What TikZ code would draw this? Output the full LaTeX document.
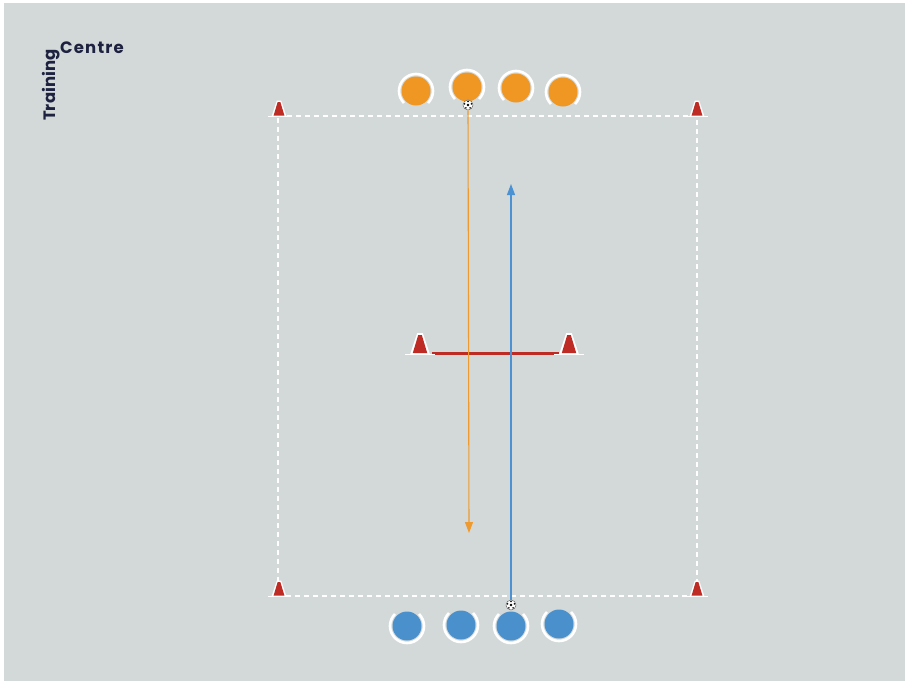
\documentclass[tikz,border=0pt]{standalone}
\usepackage{fontspec}
\setmainfont{Poppins}
\usetikzlibrary{arrows.meta,calc}
\definecolor{bg}{HTML}{D3D9D9}
\definecolor{orangep}{HTML}{EF9623}
\definecolor{bluep}{HTML}{4A90CC}
\definecolor{conered}{HTML}{BE2B24}
\definecolor{navy}{HTML}{1E2240}
\definecolor{arrowor}{HTML}{EE9A2E}
\definecolor{arrowbl}{HTML}{4A92D4}
\tikzset{
  orangeplayer/.style={circle,fill=orangep,minimum size=29pt,inner sep=0pt},
  blueplayer/.style={circle,fill=bluep,minimum size=29pt,inner sep=0pt},
  ballnode/.style={circle,fill=white,draw=black!60,line width=0.5pt,minimum size=10pt,inner sep=0pt},
  fieldline/.style={white,line width=1.3pt,dash pattern=on 5pt off 4pt},
  ring/.style={white,line width=2.6pt},
  run/.style={line width=1.1pt,-{Triangle[length=11pt,width=8pt]}},
  logotext/.style={inner sep=0pt,font=\bfseries\fontsize{16.5}{16.5}\selectfont,text=navy},
}
\newcommand{\conemark}[3]{% x, y, size
  \fill[white] (#1-#3*0.75,#2+#3*0.55) rectangle (#1+#3*0.75,#2+#3*0.62);
  \fill[white] (#1-#3*0.5,#2+#3*0.58) -- (#1-#3*0.14,#2-#3*0.5) -- (#1+#3*0.14,#2-#3*0.5) -- (#1+#3*0.5,#2+#3*0.58) -- cycle;
  \fill[conered] (#1-#3*0.36,#2+#3*0.5) -- (#1-#3*0.09,#2-#3*0.4) -- (#1+#3*0.09,#2-#3*0.4) -- (#1+#3*0.36,#2+#3*0.5) -- cycle;
}
\newcommand{\ballmark}[1]{%
  \fill[black] (#1) circle (1.4pt);
  \foreach \a in {90,162,234,306,18} \fill[black] ($(#1)+(\a:3.6pt)$) circle (0.9pt);
}
\begin{document}
\begin{tikzpicture}[x=1pt,y=-1pt]
\useasboundingbox (0,0) rectangle (905,681);
\fill[white] (0,0) rectangle (905,681);
\fill[bg] (4,3) rectangle (905,681);

% logo
\node[logotext,anchor=base west] (centre) at (60,53) {\addfontfeature{LetterSpace=7}Centre};
\node[logotext,anchor=base west,rotate=90] (training) at (55,121) {Training};

% field
\coordinate (tl) at (278,116);
\coordinate (tr) at (697,116);
\coordinate (bl) at (278,596);
\coordinate (br) at (697,596);
\draw[fieldline] (tl) -- (tr) -- (br) -- (bl) -- cycle;

% corner cones
\conemark{279}{108}{15}
\conemark{697}{108}{15}
\conemark{279}{588}{15}
\conemark{697}{588}{15}

% middle gate
\coordinate (gl) at (432,353);
\coordinate (gr) at (559,353);
\draw[conered,line width=3pt] (gl) -- (gr);
\conemark{420}{343}{20}
\conemark{569}{343}{20}

% orange players
\foreach \n/\x/\y in {o1/416/91,o2/467/87,o3/516/88,o4/563/92}{
  \draw[ring] (\x,\y) ++(-45:17pt) arc[start angle=-45,end angle=225,radius=17pt];
  \node[orangeplayer] (\n) at (\x,\y) {};
}
% blue players
\foreach \n/\x/\y in {b1/407/626,b2/461/625,b3/511/626,b4/559/624}{
  \draw[ring] (\x,\y) ++(135:17pt) arc[start angle=135,end angle=405,radius=17pt];
  \node[blueplayer] (\n) at (\x,\y) {};
}

% balls
\node[ballnode] (ball1) at (468,105) {};
\ballmark{ball1}
\node[ballnode] (ball2) at (511,605) {};
\ballmark{ball2}

% runs
\coordinate (oend) at (469,533);
\coordinate (bend) at (511,184);
\draw[run,arrowor] (ball1) -- (oend);
\draw[run,arrowbl] (ball2) -- (bend);
\end{tikzpicture}
\end{document}
